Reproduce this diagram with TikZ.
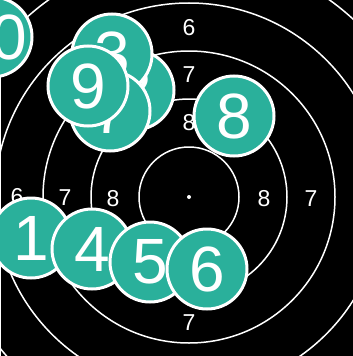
\documentclass[tikz,border=0pt]{standalone}
\usepackage{fontspec}
\setsansfont{Liberation Sans}
\usetikzlibrary{positioning}
\definecolor{impacto}{HTML}{2AB09B}
\definecolor{fondo}{HTML}{000000}

\begin{document}
\begin{tikzpicture}[x=1pt, y=-1pt, font=\sffamily,
    aro/.style={white, inner sep=0pt, font=\sffamily\fontsize{23}{23}\selectfont},
    tiro/.style={circle, fill=impacto, draw=white, line width=3pt, minimum size=80pt,
                 inner sep=0pt, text=white, font=\sffamily\fontsize{64}{64}\selectfont}]
	\useasboundingbox (0,0) rectangle (353,356);
	\clip (0,0) rectangle (353,356);
	\fill[fondo] (1,0) rectangle (353,356);
	\node[circle, fill=white, inner sep=0pt, minimum size=4pt] (centro) at (189,197) {};
	\foreach \r in {50,98,...,290}
		\draw[white, line width=1.5pt] (centro.center) circle[radius=\r];
	% numeros de los aros
	\foreach \n/\x/\y [count=\k] in {6/189/28, 7/189/75, 8/189/123, 8/264/199, 7/311/199,
	                                 6/17/197, 7/65/198, 8/113/199, 7/189/323}
		\node[aro] (aro\k) at (\x,\y) {\n};
	% impactos
	\foreach \n/\x/\y in {1/31/238, 2/134/90, 3/112/54, 4/92/249, 5/150/262,
	                      6/207/269, 7/110/111, 8/234/116, 9/88/86, 10/-8/37}
		\node[tiro] (tiro\n) at (\x,\y) {\makebox[0pt]{\n}};
\end{tikzpicture}
\end{document}
